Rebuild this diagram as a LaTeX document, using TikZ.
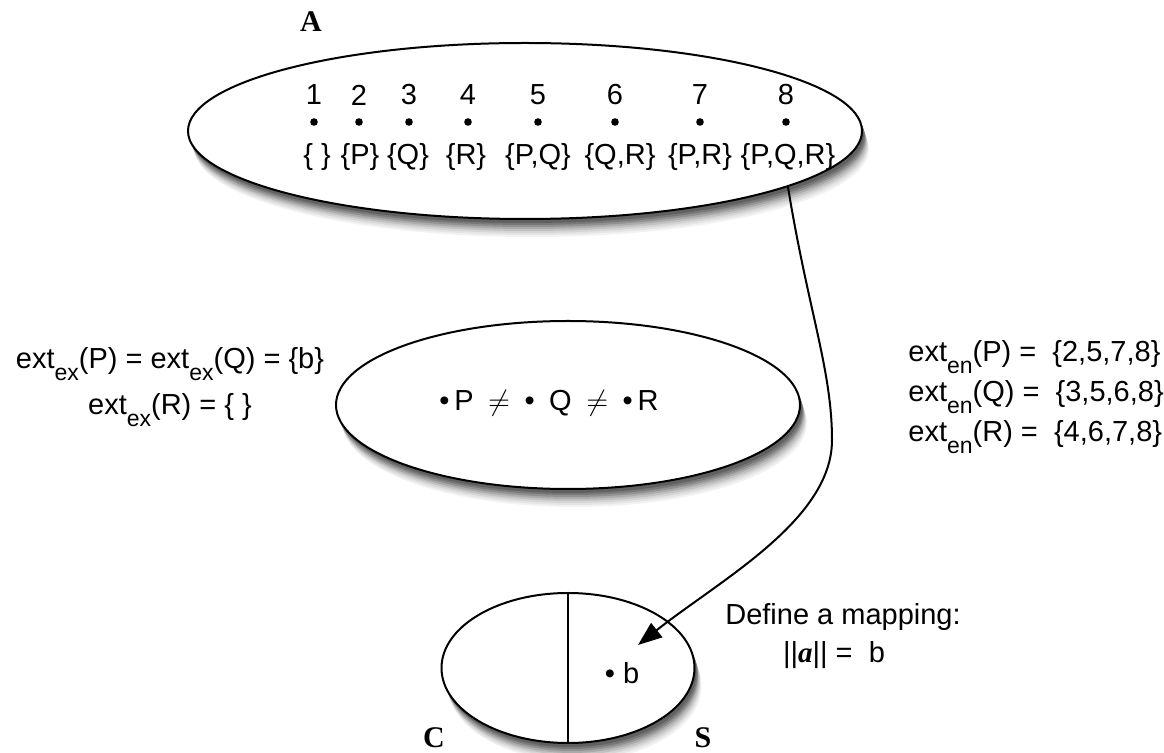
\documentclass[tikz,border=0pt]{standalone}
\usepackage{fontspec}
\setmainfont{Liberation Sans}
\newfontfamily\serifbold{Liberation Serif}
\usetikzlibrary{shapes.geometric,arrows.meta}
\newcommand{\lowsub}[1]{\raisebox{-6pt}{\fontsize{11.5}{12}\selectfont #1}}
\newcommand{\setshadow}[4]{%
  \node[halo=black!5, minimum width=#3pt, minimum height=#4pt] at (#1+7, #2+18) {};
  \node[halo=black!10, minimum width=#3pt, minimum height=#4pt] at (#1+6, #2+16) {};
  \node[halo=black!16, minimum width=#3pt, minimum height=#4pt] at (#1+5.5, #2+14) {};
  \node[halo=black!24, minimum width=#3pt, minimum height=#4pt] at (#1+5, #2+12) {};
  \node[halo=black!33, minimum width=#3pt, minimum height=#4pt] at (#1+4, #2+10) {};
  \node[halo=black!43, minimum width=#3pt, minimum height=#4pt] at (#1+3.5, #2+8) {};
  \node[halo=black!53, minimum width=#3pt, minimum height=#4pt] at (#1+3, #2+6) {};
  \node[halo=black!62, minimum width=#3pt, minimum height=#4pt] at (#1+2, #2+4) {};}

\begin{document}
\begin{tikzpicture}[x=0.5pt, y=-0.5pt,
    every node/.style={font=\fontsize{14.5}{17}\selectfont, inner sep=0pt},
    set/.style={ellipse, draw, line width=1pt, fill=white},
    halo/.style={ellipse, fill=#1},
    dot/.style={circle, fill, minimum size=3.8pt},
    tag/.style={anchor=base, font=\serifbold\bfseries\fontsize{15}{15}\selectfont},
    mapto/.style={line width=1pt, -{Triangle[length=12pt, width=9pt]}}]
  \useasboundingbox (0, 0) rectangle (1164, 753);
  \setshadow{525}{131}{337}{88}
  \setshadow{568}{405}{232}{84}
  \setshadow{568}{668}{126.5}{75}
  \node[tag] (A) at (311, 32) {A};
  \node[set, minimum width=337pt, minimum height=88pt] (atoms) at (525, 131) {};
  \node (n1) at (314, 95) {1};
  \node (n2) at (359, 95) {2};
  \node (n3) at (409, 95) {3};
  \node (n4) at (468, 95) {4};
  \node (n5) at (538, 95) {5};
  \node (n6) at (615, 95) {6};
  \node (n7) at (700, 95) {7};
  \node (n8) at (786, 95) {8};
  \node[dot] (d1) at (314, 122) {};
  \node[dot] (d2) at (359, 122) {};
  \node[dot] (d3) at (409, 122) {};
  \node[dot] (d4) at (468, 122) {};
  \node[dot] (d5) at (538, 122) {};
  \node[dot] (d6) at (615, 122) {};
  \node[dot] (d7) at (700, 122) {};
  \node[dot] (d8) at (786, 122) {};
  \node (s1) at (317, 157) {\{ \}};
  \node (s2) at (360, 157) {\{P\}};
  \node (s3) at (408, 157) {\{Q\}};
  \node (s4) at (466, 157) {\{R\}};
  \node (s5) at (538, 157) {\{P,Q\}};
  \node (s6) at (620, 157) {\{Q,R\}};
  \node (s7) at (700, 157) {\{P,R\}};
  \node (s8) at (788, 157) {\{P,Q,R\}};
  \node[set, minimum width=232pt, minimum height=84pt] (worlds) at (568, 405) {};
  \node (props) at (549, 403) {\textbullet\,P\enspace$\neq$\enspace\textbullet\enspace Q\enspace$\neq$\enspace\textbullet\,R};
  \node[set, minimum width=126.5pt, minimum height=75pt] (cs) at (568, 668) {};
  \draw[line width=1pt] (cs.north) -- (cs.south);
  \node (b) at (622, 673) {\textbullet\ b};
  \node[tag] (C) at (434, 748) {C};
  \node[tag] (S) at (703, 748) {S};
  \node[anchor=base] (ex1) at (170, 369) {ext\lowsub{ex}(P) = ext\lowsub{ex}(Q) = \{b\}};
  \node[anchor=base] (ex2) at (170, 415) {ext\lowsub{ex}(R) = \{ \}};
  \node[anchor=base west] (en1) at (908, 362) {ext\lowsub{en}(P) = \ \{2,5,7,8\}};
  \node[anchor=base west] (en2) at (908, 402) {ext\lowsub{en}(Q) = \ \{3,5,6,8\}};
  \node[anchor=base west] (en3) at (908, 442) {ext\lowsub{en}(R) = \ \{4,6,7,8\}};
  \node[anchor=base] (map1) at (843, 625) {Define a mapping:};
  \node[anchor=base] (map2) at (834, 663) {||{\serifbold\bfseries\itshape a}|| = \ b};
  \coordinate (hit) at (638, 645);
  \draw[mapto] (atoms.-12) .. controls (808, 310) and (832, 370) .. (832, 440)
    .. controls (832, 520) and (720, 580) .. (hit);
\end{tikzpicture}
\end{document}
